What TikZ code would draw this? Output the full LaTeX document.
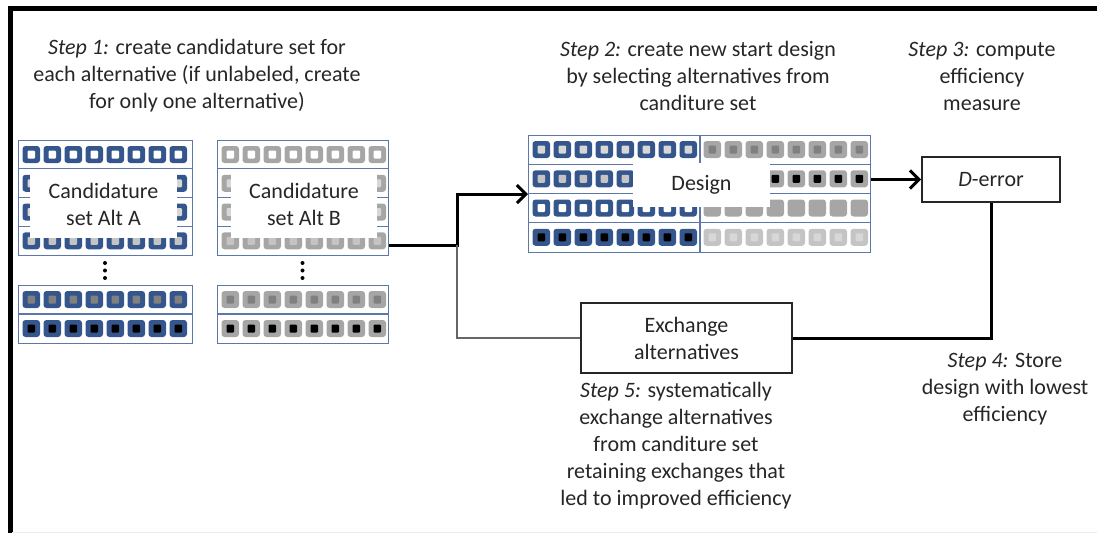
\documentclass[tikz,border=0pt]{standalone}
\usepackage{fontspec}
\setmainfont{Carlito}
\usetikzlibrary{arrows.meta}
\definecolor{altblue}{RGB}{52,86,140}
\definecolor{altgrey}{RGB}{166,166,166}
\definecolor{altpale}{RGB}{196,196,196}
\definecolor{altmid}{RGB}{128,128,128}
\definecolor{altlight}{RGB}{215,215,215}
\definecolor{rim}{RGB}{92,120,168}
\colorlet{ink}{black!85}
\tikzset{
  block/.style={draw=rim,line width=1.2pt,minimum width=#1,minimum height=115pt,
    anchor=north west,inner sep=0pt},
  divider/.style={draw=rim,line width=1.2pt},
  tag/.style={fill=white,inner sep=0pt,align=center,text=ink},
  steptext/.style={align=center,text=ink,inner sep=0pt},
  boxed/.style={draw=black!85,line width=2pt,fill=white,align=center,text=ink},
  flow/.style={draw=black,line width=3pt},
  backflow/.style={draw=black!60,line width=1.6pt},
  tip/.style={-{Straight Barb[length=9pt,width=18pt,line width=3pt]}},
}
% one row of eight alternatives: x, y, outer colour, inner colour
\newcommand{\altrow}[4]{%
  \foreach \k in {0,...,7}{
    \fill[#3,rounded corners=3pt] ({#1+4.5+21*\k},{#2+6}) rectangle ++(17.5,17);
    \fill[#4,rounded corners=1pt] ({#1+9.5+21*\k},{#2+10.5}) rectangle ++(7.5,8);
  }}
\begin{document}
\begin{tikzpicture}[x=1pt,y=-1pt,font=\fontsize{22}{27}\selectfont]
\useasboundingbox (0,0) rectangle (1097,533);
\draw[line width=4.5pt] (1097,8.5) -- (10.5,8.5) -- (10.5,533);
\draw[black!8,line width=1pt] (12,532) -- (1097,532);

% candidature sets
\node[block=174pt] (blockA) at (18,140) {};
\node[block=171pt] (blockB) at (217,140) {};
\node[block=174pt,minimum height=58pt] (blockAlow) at (18,285) {};
\node[block=171pt,minimum height=58pt] (blockBlow) at (217,285) {};
\foreach \r/\inn in {0/white,1/altlight,2/altlight,3/altpale}{
  \altrow{18}{140+28.75*\r}{altblue}{\inn}
  \altrow{217}{140+28.75*\r}{altgrey}{\inn}
}
\foreach \r/\inn in {0/altmid,1/black}{
  \altrow{18}{285+29*\r}{altblue}{\inn}
  \altrow{217}{285+29*\r}{altgrey}{\inn}
}
\foreach \r in {1,2,3}{
  \draw[divider] (18,{140+28.75*\r}) -- ++(174,0);
  \draw[divider] (217,{140+28.75*\r}) -- ++(171,0);
}
\draw[divider] (18,314) -- ++(174,0);
\draw[divider] (217,314) -- ++(171,0);
\foreach \d in {263,270.5,278}{
  \fill[black] (105,\d) circle[radius=2];
  \fill[black] (302.5,\d) circle[radius=2];
}
\node[tag,minimum width=147pt,minimum height=68pt] (labA) at (103.5,204) {Candidature\\set Alt A};
\node[tag,minimum width=146pt,minimum height=68pt] (labB) at (304,204) {Candidature\\set Alt B};

% start design
\node[block=342pt,minimum height=117pt] (design) at (528,135) {};
\foreach \r/\lin/\rout/\rin in {0/altlight/altgrey/altmid, 1/altpale/altgrey/black,
    2/white/altgrey/altgrey, 3/black/altpale/altlight}{
  \altrow{528}{135+29.25*\r}{altblue}{\lin}
  \altrow{699}{135+29.25*\r}{\rout}{\rin}
}
\foreach \r in {1,2,3}
  \draw[divider] (528,{135+29.25*\r}) -- ++(342,0);
\draw[divider] (700,135) -- (700,252);
\node[tag,minimum width=137pt,minimum height=44pt] (labD) at (701.5,185) {Design};

\node[boxed,minimum width=138pt,minimum height=45pt] (derror) at (991,179.5) {\textit{D}-error};
\node[boxed,minimum width=211pt,minimum height=70pt] (exchange) at (686.5,338) {Exchange\\alternatives};

% steps
\node[steptext] (step1) at (197,76) {\textit{Step 1:} create candidature set for\\each alternative (if unlabeled, create\\for only one alternative)};
\node[steptext] (step2) at (698,76) {\textit{Step 2:} create new start design\\by selecting alternatives from\\canditure set};
\node[steptext] (step3) at (982,76) {\textit{Step 3:} compute\\efficiency\\measure};
\node[steptext] (step4) at (1005,389) {\textit{Step 4:} Store\\design with lowest\\efficiency};
\node[steptext] (step5) at (676,446) {\textit{Step 5:} systematically\\exchange alternatives\\from canditure set\\retaining exchanges that\\led to improved efficiency};

% connectors
\coordinate (split) at (457,245);
\draw[flow,tip] (blockB.east |- split) -- (split) |- (design.west);
\draw[flow,tip] (design.east |- derror.west) -- (derror.west);
\draw[flow] (derror.south) |- (exchange.east);
\draw[backflow] (exchange.west) -| (split);
\end{tikzpicture}
\end{document}
